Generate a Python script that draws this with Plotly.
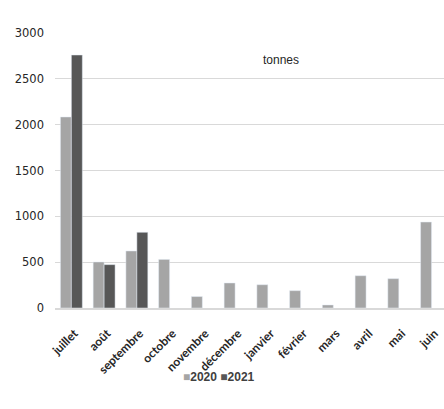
import plotly.graph_objects as go

months = ["juillet", "août", "septembre", "octobre", "novembre", "décembre",
          "janvier", "février", "mars", "avril", "mai", "juin"]
v2020 = [2084, 502, 622, 530, 125, 273, 254, 189, 33, 352, 320, 938]
v2021 = [2760, 473, 826, None, None, None, None, None, None, None, None, None]
series = [("2020", v2020, "#a5a5a5"), ("2021", v2021, "#575757")]

fig = go.Figure()
for name, vals, col in series:
    fig.add_trace(go.Bar(x=months, y=vals, name=name, marker_color=col, showlegend=False))

legend_text = "&nbsp;".join(
    f"<span style='color:{col}'>■</span><b>{name}</b>" for name, _, col in series)

fig.update_layout(
    width=444, height=409,
    margin=dict(l=55, r=0, t=33, b=101, autoexpand=False),
    plot_bgcolor="white", paper_bgcolor="white",
    barmode="group", bargap=0.33, bargroupgap=0,
    font=dict(family="Liberation Sans, Arial", color="#404040", size=11),
    annotations=[
        dict(text="tonnes", x=6.4, y=2705, xref="x", yref="y", showarrow=False,
             font=dict(family="Liberation Sans, Arial", size=12, color="#262626")),
        dict(text=legend_text, x=0.421, y=-0.2495, xref="paper", yref="paper",
             xanchor="center", yanchor="middle", showarrow=False,
             font=dict(family="Liberation Sans, Arial", size=12, color="#404040")),
    ],
)
fig.update_yaxes(range=[0, 3000], dtick=500, showgrid=True, gridcolor="#d9d9d9",
                 zeroline=False, ticks="", ticklabelstandoff=10,
                 tickfont=dict(family="DejaVu Sans", size=11.5, color="#262626"))
fig.update_xaxes(range=[-0.5, 11.38], tickangle=-45, showline=True, linecolor="#d9d9d9",
                 linewidth=1.5, automargin=False, ticklabelstandoff=12, ticklabelshift=3,
                 tickfont=dict(family="Lato, Liberation Sans", size=12, weight="bold",
                               color="#262626"))

fig.write_html("out.html", config={"displayModeBar": False},
               post_script="document.body.style.margin='0';document.body.style.overflow='hidden';")
